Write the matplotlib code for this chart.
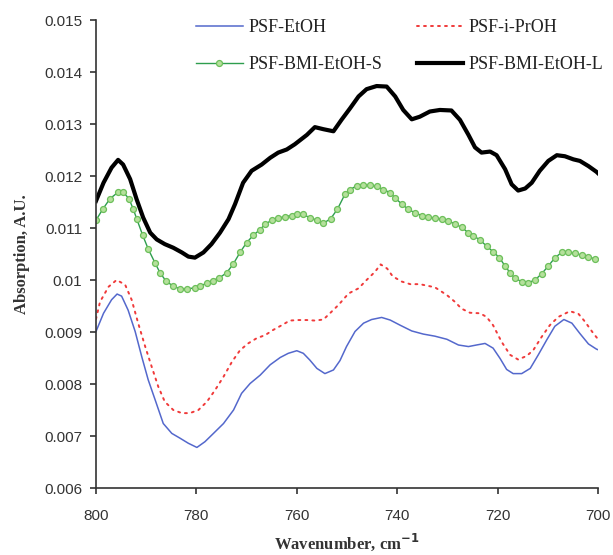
import matplotlib
matplotlib.use("Agg")
import matplotlib.pyplot as plt

# ---------------- Data (wavenumber, cm^-1 ; absorption, A.U.) ----------------
x_black = [800.0, 798.5, 796.9, 795.6, 794.6, 793.2, 791.9, 790.6, 789.2, 787.9, 786.3, 784.6,
           782.9, 781.6, 780.3, 778.6, 777.0, 775.3, 773.6, 772.3, 770.7, 769.0, 767.0, 765.3,
           763.7, 762.0, 760.4, 758.0, 756.4, 754.7, 752.7, 751.1, 749.4, 747.7, 746.1, 744.1,
           742.1, 740.4, 738.8, 737.1, 735.5, 733.5, 731.5, 729.2, 727.5, 725.8, 724.5, 723.2,
           721.5, 720.2, 718.5, 717.2, 715.9, 714.5, 713.2, 711.6, 709.9, 708.2, 706.6, 704.9,
           703.6, 701.9, 700.3, 699.3]
y_black = [0.01152, 0.01187, 0.01216, 0.01231, 0.01222, 0.01194, 0.01155, 0.01120, 0.01091,
           0.01078, 0.01069, 0.01062, 0.01053, 0.01045, 0.01043, 0.01053, 0.01069, 0.01091,
           0.01117, 0.01146, 0.01187, 0.01210, 0.01222, 0.01235, 0.01245, 0.01251, 0.01261,
           0.01279, 0.01294, 0.01290, 0.01286, 0.01308, 0.01330, 0.01353, 0.01367, 0.01373,
           0.01372, 0.01353, 0.01327, 0.01309, 0.01314, 0.01324, 0.01327, 0.01326, 0.01308,
           0.01279, 0.01255, 0.01245, 0.01247, 0.01240, 0.01213, 0.01184, 0.01172, 0.01176,
           0.01187, 0.01210, 0.01229, 0.01240, 0.01238, 0.01232, 0.01229, 0.01219, 0.01208,
           0.01199]

x_green = [800.0, 798.67, 797.21, 795.55, 794.69, 793.43, 792.56, 791.9, 790.7, 789.57, 788.25,
           787.25, 786.06, 784.6, 783.27, 781.8, 780.28, 779.28, 777.95, 776.76, 775.43, 773.97,
           772.64, 771.31, 769.99, 768.66, 767.33, 766.33, 765.01, 763.68, 762.35, 761.02,
           760.03, 758.83, 757.37, 756.04, 754.71, 753.25, 751.92, 750.4, 749.4, 748.07,
           746.74, 745.41, 744.09, 742.76, 741.43, 740.43, 739.1, 737.78, 736.45, 735.12,
           733.79, 732.47, 731.14, 729.81, 728.48, 727.15, 725.83, 724.83, 723.5, 722.17,
           720.85, 719.65, 718.52, 717.53, 716.53, 715.2, 713.87, 712.55, 711.22, 709.89,
           708.56, 707.23, 705.9, 704.58, 703.25, 701.92, 700.59, 699.27]
y_green = [0.01115, 0.011359, 0.011564, 0.011692, 0.011699, 0.011564, 0.011359, 0.01118,
           0.01086, 0.01059, 0.01033, 0.01014, 0.00998, 0.00988, 0.00983, 0.00983, 0.00985,
           0.00988, 0.00994, 0.00999, 0.01004, 0.01014, 0.01031, 0.01053, 0.01072, 0.01086,
           0.01097, 0.01107, 0.01115, 0.01119, 0.01122, 0.01124, 0.01126, 0.01126, 0.01120,
           0.01115, 0.01109, 0.01118, 0.01136, 0.01165, 0.01174, 0.01181, 0.01183, 0.01182,
           0.01180, 0.01174, 0.01168, 0.01158, 0.01146, 0.01136, 0.01129, 0.01124, 0.01121,
           0.01119, 0.01117, 0.01113, 0.01108, 0.01101, 0.01091, 0.01085, 0.01077, 0.01065,
           0.01054, 0.01043, 0.01027, 0.01014, 0.01003, 0.00997, 0.00995, 0.01000, 0.01012,
           0.01027, 0.01043, 0.01053, 0.01054, 0.01051, 0.01048, 0.01045, 0.01040, 0.01033]

x_red = [800.0, 799.2, 797.5, 795.9, 794.2, 792.9, 791.6, 790.2, 788.9, 787.6, 786.3, 784.6,
         782.9, 781.3, 779.6, 777.9, 776.3, 774.6, 772.9, 771.3, 769.7, 768.0, 766.3, 764.7,
         763.0, 761.4, 759.7, 758.0, 756.4, 754.7, 753.4, 751.7, 749.7, 747.7, 746.1, 744.4,
         743.3, 742.0, 740.9, 739.1, 737.4, 735.5, 732.5, 730.1, 728.5, 727.2, 725.5, 723.5,
         722.2, 720.9, 719.2, 717.5, 715.9, 714.2, 712.9, 711.2, 709.6, 707.9, 705.6, 703.9,
         702.6, 700.9, 699.3]
y_red = [0.00925, 0.00958, 0.00987, 0.01000, 0.00991, 0.00962, 0.00917, 0.00872, 0.00833,
         0.00795, 0.00766, 0.00750, 0.00744, 0.00744, 0.00750, 0.00766, 0.00788, 0.00814,
         0.00843, 0.00865, 0.00878, 0.00888, 0.00894, 0.00904, 0.00913, 0.00922, 0.00923,
         0.00923, 0.00922, 0.00924, 0.00936, 0.00952, 0.00974, 0.00984, 0.01000, 0.01016,
         0.01030, 0.01022, 0.01007, 0.00997, 0.00992, 0.00992, 0.00986, 0.00971, 0.00958,
         0.00945, 0.00937, 0.00936, 0.00929, 0.00913, 0.00881, 0.00856, 0.00847, 0.00854,
         0.00865, 0.00891, 0.00913, 0.00929, 0.00940, 0.00935, 0.00920, 0.00897, 0.00878]

x_blue = [800.0, 798.5, 796.9, 795.8, 794.9, 793.6, 792.2, 790.9, 789.6, 788.2, 786.6, 784.9,
          783.3, 781.6, 779.9, 778.3, 776.6, 774.6, 772.6, 771.0, 769.3, 767.3, 765.3, 763.3,
          761.7, 760.0, 758.7, 757.4, 756.0, 754.4, 752.7, 751.4, 750.1, 748.4, 746.7, 745.1,
          743.1, 741.4, 739.4, 737.1, 734.8, 732.5, 730.1, 727.8, 725.8, 724.2, 722.5, 720.9,
          719.5, 718.2, 716.9, 715.2, 713.5, 711.9, 710.2, 708.6, 706.8, 705.2, 703.6, 701.9,
          700.3, 698.9]
y_blue = [0.00901, 0.00936, 0.00962, 0.00973, 0.00969, 0.00942, 0.00901, 0.00853, 0.00808,
          0.00769, 0.00724, 0.00705, 0.00696, 0.00686, 0.00678, 0.00689, 0.00705, 0.00724,
          0.00750, 0.00782, 0.00801, 0.00817, 0.00837, 0.00851, 0.00859, 0.00864, 0.00859,
          0.00846, 0.00830, 0.00820, 0.00827, 0.00845, 0.00872, 0.00901, 0.00917, 0.00924,
          0.00928, 0.00923, 0.00913, 0.00902, 0.00896, 0.00892, 0.00886, 0.00875, 0.00872,
          0.00875, 0.00878, 0.00869, 0.00849, 0.00828, 0.00820, 0.00820, 0.00830, 0.00856,
          0.00885, 0.00911, 0.00924, 0.00917, 0.00897, 0.00877, 0.00867, 0.00862]

labels = ["PSF-EtOH", "PSF-i-PrOH", "PSF-BMI-EtOH-S", "PSF-BMI-EtOH-L"]
x_ticks = [800, 780, 760, 740, 720, 700]
y_ticks = [0.006, 0.007, 0.008, 0.009, 0.01, 0.011, 0.012, 0.013, 0.014, 0.015]
y_ticklabels = ["0.006", "0.007", "0.008", "0.009", "0.01", "0.011", "0.012", "0.013",
                "0.014", "0.015"]

# ---------------- Figure ----------------
W, H = 613, 555
fig = plt.figure(figsize=(W / 100, H / 100), dpi=100)
L, R, T, B = 96, 598, 20, 488
ax = fig.add_axes([L / W, 1 - B / H, (R - L) / W, (B - T) / H])

l1, = ax.plot(x_blue, y_blue, color="#5468cc", lw=1.1, solid_joinstyle="round",
              label=labels[0])
l2, = ax.plot(x_red, y_red, color="#f03a3a", lw=1.4, ls=(0, (1.0, 2.6)),
              dash_capstyle="round", label=labels[1])
l3, = ax.plot(x_green, y_green, color="#2e9e4e", lw=1.0, marker="o", ms=4.3,
              mfc="#b5e09c", mec="#6cbf5a", mew=0.9, label=labels[2])
l4, = ax.plot(x_black, y_black, color="black", lw=3.0, solid_joinstyle="round",
              label=labels[3])

ax.set_xlim(800, 700)
ax.set_ylim(0.006, 0.015)
ax.set_xticks(x_ticks)
ax.set_xticklabels([str(v) for v in x_ticks])
ax.set_yticks(y_ticks)
ax.set_yticklabels(y_ticklabels)

for s in ["top", "right"]:
    ax.spines[s].set_visible(False)
for s in ["left", "bottom"]:
    ax.spines[s].set_color("#333333")
    ax.spines[s].set_linewidth(1.2)
ax.tick_params(axis="both", direction="out", length=4, width=1.2, color="#333333",
               labelsize=11, labelcolor="#333333")
ax.tick_params(axis="y", pad=6)
ax.tick_params(axis="x", pad=11)
for t in ax.get_xticklabels() + ax.get_yticklabels():
    t.set_fontfamily("Liberation Sans")

ax.set_xlabel("Wavenumber, cm$^{\\mathbf{-1}}$", fontfamily="Liberation Serif", fontsize=12,
              fontweight="bold", color="#333333", labelpad=6)
ax.set_ylabel("Absorption, A.U.", fontfamily="Liberation Serif", fontsize=12,
              fontweight="bold", color="#333333", labelpad=10)

leg = ax.legend(handles=[l1, l3, l2, l4], ncol=2, frameon=False, loc="upper left",
                bbox_to_anchor=((196 - L) / (R - L), (B - 19) / (B - T)),
                borderaxespad=0, borderpad=0,
                prop={"family": "Liberation Serif", "size": 13},
                handlelength=2.6, handletextpad=0.3, columnspacing=1.9, labelspacing=1.1)
for t in leg.get_texts():
    t.set_color("#222222")

fig.savefig("out.png", dpi=100)
